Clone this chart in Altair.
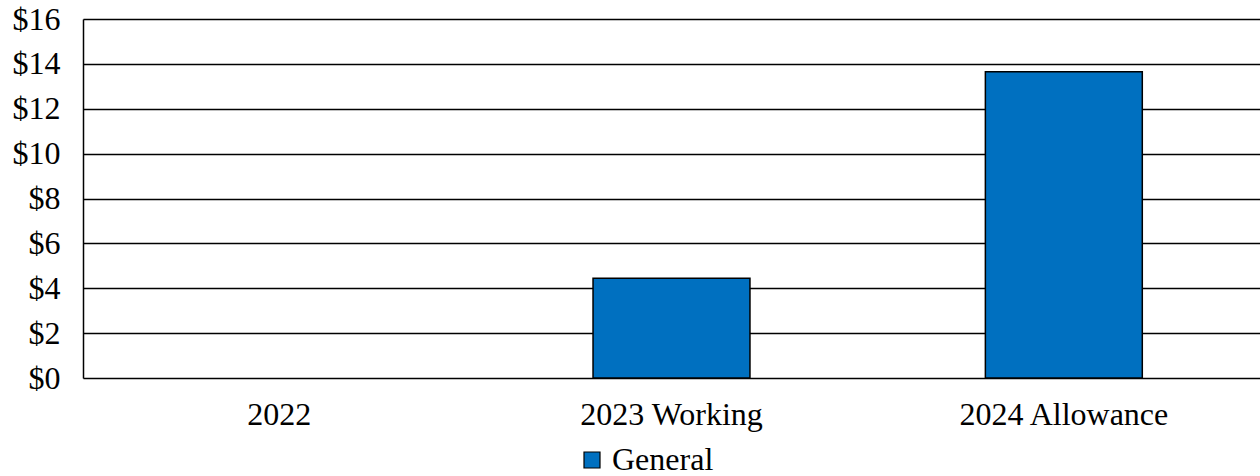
import altair as alt
import pandas as pd

categories = ["2022", "2023 Working", "2024 Allowance"]
values = [0.0, 4.45, 13.65]
series = ["General", "General", "General"]

df = pd.DataFrame({"category": categories, "value": values, "series": series})

FONT = "Liberation Serif"
FS = 32

bars = alt.Chart(df).mark_bar(
    width=alt.RelativeBandSize(0.4),
    stroke="black",
    strokeWidth=1.5,
).encode(
    x=alt.X("category:N", sort=categories, title=None,
            scale=alt.Scale(paddingInner=0, paddingOuter=0),
            axis=alt.Axis(labelAngle=0, ticks=False, domain=False, labelPadding=21,
                          labelLimit=0,
                          labelFontSize=FS, labelFont=FONT, labelColor="black")),
    y=alt.Y("value:Q", title=None,
            scale=alt.Scale(domain=[0, 16], nice=False),
            axis=alt.Axis(values=list(range(0, 17, 2)), labelExpr="'$' + datum.value",
                          ticks=False, domain=True, domainColor="black", domainWidth=1.5,
                          grid=True, gridColor="black", gridWidth=1.5, gridOpacity=1,
                          labelPadding=23, labelFontSize=FS, labelFont=FONT, labelColor="black")),
    color=alt.Color("series:N", scale=alt.Scale(domain=["General"], range=["#0070C0"]),
                    legend=alt.Legend(title=None, orient="none", legendX=493, legendY=425,
                                      symbolType="square", symbolSize=256,
                                      symbolStrokeColor="black", symbolStrokeWidth=1.2,
                                      labelFont=FONT, labelFontSize=FS, labelColor="black",
                                      labelOffset=4, labelLimit=0)),
    strokeOpacity=alt.condition(alt.datum.value > 0, alt.value(1), alt.value(0)),
)

chart = bars.properties(
    width=1177, height=359,
    autosize=alt.AutoSizeParams(type="none"),
    padding={"left": 83, "top": 19, "right": 0, "bottom": 98},
).configure_view(stroke=None).configure(background="white")

chart.save("out.html", embed_options={"renderer": "svg", "actions": False})
